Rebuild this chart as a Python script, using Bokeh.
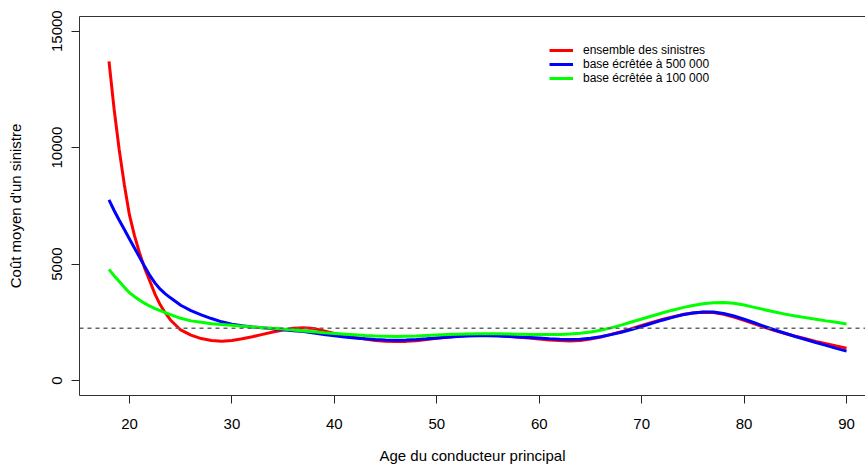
from bokeh.plotting import figure
from bokeh.models import Range1d, FixedTicker, LinearAxis, Span, Legend, LegendItem
from bokeh.embed import file_html
from bokeh.resources import INLINE

ages = [18, 18.5, 19, 19.5, 20, 20.5, 21, 21.5, 22, 22.5, 23, 23.5, 24] + list(range(25, 91))

ensemble = [13700, 11650, 9900, 8400, 7100, 6200, 5450, 4800, 4250, 3700, 3250, 2900, 2600,
            2170, 1950, 1800,
            1720, 1690, 1720, 1790, 1880, 1980, 2080, 2170, 2240, 2270,
            2230, 2130, 2020, 1930, 1850, 1780, 1720, 1690, 1670, 1680,
            1710, 1760, 1810, 1860, 1900, 1930, 1940, 1940, 1930, 1900,
            1860, 1820, 1780, 1740, 1720, 1700, 1720, 1780, 1870, 1980,
            2090, 2220, 2360, 2490, 2620, 2730, 2830, 2900, 2930, 2920,
            2840, 2720, 2580, 2430, 2280, 2140, 2020, 1900, 1790, 1680,
            1580, 1480, 1390]

ecrete_500 = [7760, 7300, 6880, 6480, 6080, 5680, 5280, 4880, 4500, 4180, 3920, 3720, 3550,
              3230, 3000, 2820,
              2660, 2520, 2420, 2350, 2300, 2260, 2220, 2180, 2140, 2100,
              2040, 1980, 1920, 1870, 1830, 1790, 1760, 1740, 1730, 1740,
              1760, 1790, 1830, 1860, 1890, 1910, 1920, 1920, 1910, 1890,
              1870, 1850, 1820, 1790, 1770, 1760, 1770, 1810, 1880, 1970,
              2070, 2190, 2320, 2460, 2590, 2710, 2820, 2900, 2940, 2940,
              2880, 2770, 2630, 2480, 2320, 2170, 2030, 1890, 1760, 1630,
              1510, 1380, 1260]

ecrete_100 = [4770, 4500, 4250, 4000, 3770, 3600, 3450, 3310, 3190, 3090, 3000, 2910, 2830,
              2670, 2560, 2500,
              2440, 2400, 2370, 2330, 2300, 2270, 2240, 2210, 2170, 2130,
              2090, 2050, 2020, 1990, 1960, 1930, 1910, 1900, 1890, 1900,
              1910, 1930, 1950, 1970, 1990, 2000, 2010, 2010, 2010, 2000,
              1990, 1980, 1970, 1970, 1980, 2000, 2030, 2080, 2160, 2260,
              2380, 2510, 2640, 2770, 2900, 3020, 3130, 3220, 3300, 3340,
              3350, 3320, 3240, 3140, 3040, 2940, 2850, 2770, 2700, 2630,
              2560, 2500, 2430]

moyenne = 2245

x_ticks = [20, 30, 40, 50, 60, 70, 80, 90]
y_ticks = [0, 5000, 10000, 15000]

series_labels = ["ensemble des sinistres", "base écrêtée à 500 000", "base écrêtée à 100 000"]
series_colors = ["#FF0000", "#0000FF", "#00FF00"]

FONT = "Liberation Sans"

p = figure(width=865, height=467, output_backend="svg", toolbar_location=None,
           x_range=Range1d(15.12, 91.85), y_range=Range1d(-644, 15630),
           min_border_left=79, min_border_right=0, min_border_top=16, min_border_bottom=72,
           x_axis_label="Age du conducteur principal",
           y_axis_label="Coût moyen d'un sinistre")
p.outline_line_color = None
p.grid.visible = False
p.background_fill_color = "white"
p.border_fill_color = "white"

xa = p.below[0]
ya = p.left[0]
for ax in (xa, ya):
    ax.axis_line_color = "#333333"
    ax.axis_line_width = 1
    ax.major_tick_line_color = "#222222"
    ax.major_tick_out = 8
    ax.major_tick_in = 0
    ax.minor_tick_out = 0
    ax.minor_tick_in = 0
    ax.major_label_text_font = FONT
    ax.major_label_text_font_size = "15px"
    ax.major_label_text_color = "#000000"
    ax.axis_label_text_font = FONT
    ax.axis_label_text_font_size = "15px"
    ax.axis_label_text_font_style = "normal"
    ax.axis_label_text_color = "#000000"

xa.ticker = FixedTicker(ticks=x_ticks)
ya.ticker = FixedTicker(ticks=y_ticks)
ya.major_label_orientation = "vertical"
xa.major_label_standoff = 15
xa.axis_label_standoff = 15
ya.major_label_standoff = 9
ya.axis_label_standoff = 26

top = LinearAxis(ticker=FixedTicker(ticks=[]), major_tick_out=0, major_tick_in=0,
                 minor_tick_out=0, minor_tick_in=0, major_label_standoff=0,
                 axis_line_color="#333333")
p.add_layout(top, "above")

p.add_layout(Span(location=moyenne, dimension="width", line_color="#666666",
                  line_width=1.4, line_dash="4 4"))

renderers = []
for vals, col in zip([ensemble, ecrete_500, ecrete_100], series_colors):
    r = p.line(ages, vals, line_color=col, line_width=3)
    renderers.append(r)

legend = Legend(items=[LegendItem(label=lab, renderers=[r]) for lab, r in zip(series_labels, renderers)],
                location=(470, 310))
legend.border_line_color = None
legend.background_fill_alpha = 0
legend.padding = 0
legend.margin = 0
legend.spacing = 0
legend.glyph_width = 24
legend.glyph_height = 14
legend.label_height = 14
legend.label_standoff = 10
legend.label_text_font = FONT
legend.label_text_font_size = "12px"
legend.label_text_color = "#000000"
p.add_layout(legend)

open("out.html", "w").write(file_html(p, INLINE))
